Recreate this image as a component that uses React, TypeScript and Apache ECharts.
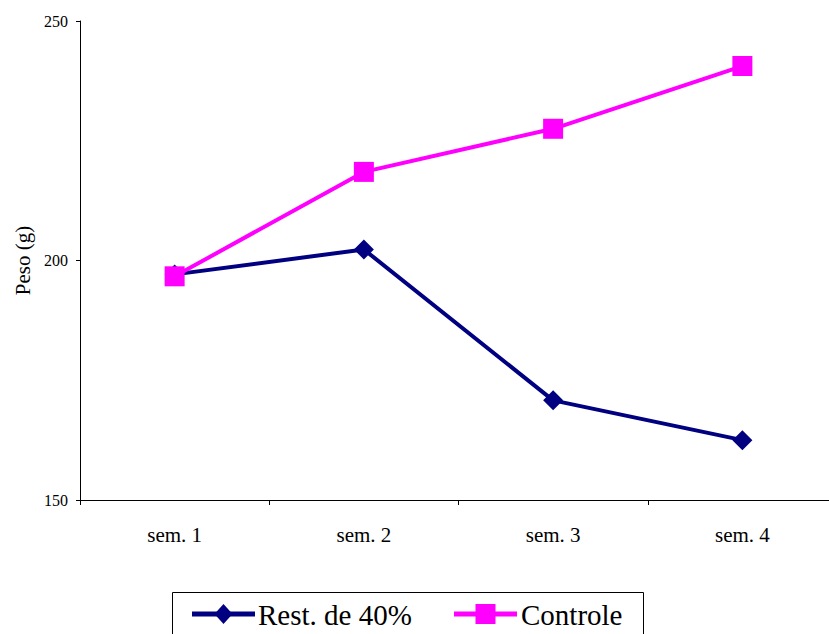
import React, { useEffect, useRef } from "react";
import * as echarts from "echarts";

const weeks = ["sem. 1", "sem. 2", "sem. 3", "sem. 4"];
const restricted = [197.1, 202.3, 170.8, 162.5];
const control = [196.7, 218.5, 227.5, 240.6];
const yTicks = { min: 150, max: 250, step: 50 };
const seriesNames = ["Rest. de 40%", "Controle"];

const serif = "Liberation Serif";
const navy = "#000080";
const magenta = "#FF00FF";

// Boxed legend under the plot: line sample, marker and name for each series.
function legendGraphics() {
  const cy = 614;
  const legendFont = { fontFamily: serif, fontSize: 29, fill: "#000000" };
  return [
    {
      type: "rect",
      shape: { x: 172.5, y: 592.5, width: 471, height: 60 },
      style: { fill: "#ffffff", stroke: "#000000", lineWidth: 1 },
      z: 10,
    },
    {
      type: "line",
      shape: { x1: 192, y1: cy, x2: 255, y2: cy },
      style: { stroke: navy, lineWidth: 5 },
      z: 11,
    },
    {
      type: "polygon",
      shape: {
        points: [
          [223.5, cy - 10],
          [232.5, cy],
          [223.5, cy + 10],
          [214.5, cy],
        ],
      },
      style: { fill: navy },
      z: 12,
    },
    {
      type: "text",
      x: 258,
      y: cy + 1,
      style: { ...legendFont, text: seriesNames[0], verticalAlign: "middle", align: "left" },
      z: 12,
    },
    {
      type: "line",
      shape: { x1: 454, y1: cy, x2: 517, y2: cy },
      style: { stroke: magenta, lineWidth: 5 },
      z: 11,
    },
    {
      type: "rect",
      shape: { x: 475.5, y: cy - 10, width: 20, height: 20 },
      style: { fill: magenta },
      z: 12,
    },
    {
      type: "text",
      x: 521,
      y: cy + 1,
      style: { ...legendFont, text: seriesNames[1], verticalAlign: "middle", align: "left" },
      z: 12,
    },
  ];
}

export default function App() {
  const ref = useRef<HTMLDivElement>(null);

  useEffect(() => {
    if (!ref.current) return;
    const chart = echarts.init(ref.current, undefined, { renderer: "svg" });
    chart.setOption({
      animation: false,
      backgroundColor: "#ffffff",
      textStyle: { fontFamily: serif },
      grid: { left: 80, top: 21, right: 8, bottom: 134, containLabel: false },
      xAxis: {
        type: "category",
        data: weeks,
        boundaryGap: true,
        axisLine: { lineStyle: { color: "#000000", width: 1 } },
        axisTick: { show: true, length: 5, lineStyle: { color: "#000000" } },
        axisLabel: { fontFamily: serif, fontSize: 21, color: "#000000", margin: 24 },
        splitLine: { show: false },
      },
      yAxis: {
        type: "value",
        min: yTicks.min,
        max: yTicks.max,
        interval: yTicks.step,
        name: "Peso (g)",
        nameLocation: "middle",
        nameGap: 43,
        nameTextStyle: { fontFamily: serif, fontSize: 21, color: "#000000" },
        axisLine: { show: true, lineStyle: { color: "#000000", width: 1 } },
        axisTick: { show: true, length: 4, lineStyle: { color: "#000000" } },
        axisLabel: { fontFamily: serif, fontSize: 16, color: "#000000", margin: 12 },
        splitLine: { show: false },
      },
      graphic: legendGraphics(),
      series: [
        {
          name: seriesNames[0],
          type: "line",
          data: restricted,
          symbol: "diamond",
          symbolSize: 20,
          lineStyle: { color: navy, width: 4 },
          itemStyle: { color: navy },
          z: 2,
        },
        {
          name: seriesNames[1],
          type: "line",
          data: control,
          symbol: "rect",
          symbolSize: 20,
          lineStyle: { color: magenta, width: 4 },
          itemStyle: { color: magenta },
          z: 3,
        },
      ],
    });
    return () => chart.dispose();
  }, []);

  // The plot runs slightly past the right edge, so the chart canvas is wider
  // than the visible frame and the overflow is clipped.
  return (
    <div
      style={{
        position: "absolute",
        left: 0,
        top: 0,
        width: 829,
        height: 634,
        overflow: "hidden",
      }}
    >
      <div ref={ref} style={{ width: 845, height: 634 }} />
    </div>
  );
}
